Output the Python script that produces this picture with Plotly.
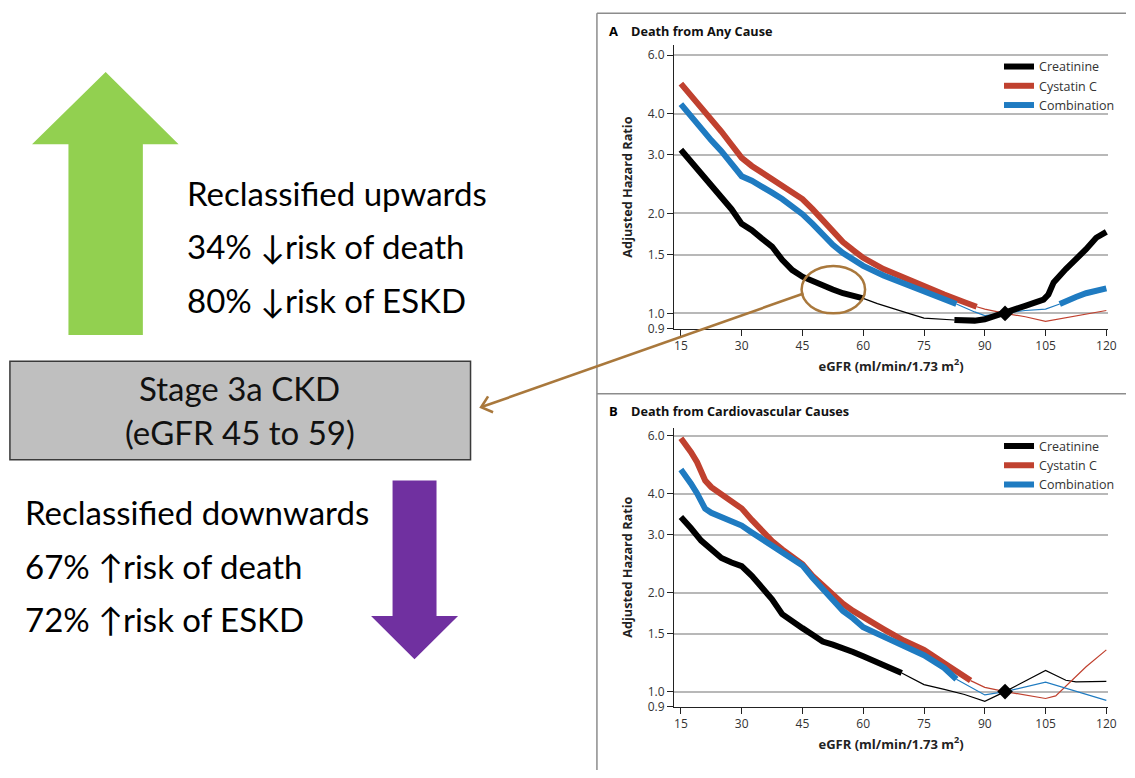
import math
import plotly.graph_objects as go

W, H = 1135, 778


def px(x):
    return x / W


def py(y):
    return 1 - y / H


# ---------------- data (eGFR, adjusted hazard ratio) ----------------
egfr_ticks = [15, 30, 45, 60, 75, 90, 105, 120]
hr_ticks = [0.9, 1.0, 1.5, 2.0, 3.0, 4.0, 6.0]
hr_tick_text = ["0.9", "1.0", "1.5", "2.0", "3.0", "4.0", "6.0"]
series_names = ["Creatinine", "Cystatin C", "Combination"]
ref_egfr = [95]
ref_hr = [1.0]

# Panel A: death from any cause
a_creat_sig1_x = [15, 17.5, 20, 22.5, 25, 27.5, 30, 32.5, 35, 37.5, 40, 42.5, 45, 47.5, 50, 52.5, 55, 57.5, 60]
a_creat_sig1_y = [3.11, 2.87, 2.65, 2.42, 2.24, 2.06, 1.86, 1.78, 1.68, 1.59, 1.45, 1.35, 1.29, 1.25, 1.21, 1.18, 1.15, 1.13, 1.11]
a_creat_ns_x = [60, 63.5, 70, 75, 82.5]
a_creat_ns_y = [1.11, 1.07, 1.01, 0.968, 0.955]
a_creat_sig2_x = [82.5, 85, 87.5, 90, 92.5, 95, 97.5, 100, 102.5, 104.5, 105.7, 107, 110, 112.5, 115, 117.5, 120]
a_creat_sig2_y = [0.955, 0.951, 0.951, 0.96, 0.985, 1.0, 1.03, 1.054, 1.079, 1.10, 1.14, 1.24, 1.36, 1.455, 1.56, 1.69, 1.76]

a_cys_sig_x = [15, 17.5, 20, 22.5, 25, 27.5, 30, 32.5, 35, 37.5, 40, 42.5, 45, 47.5, 50, 52.5, 55, 57.5, 60, 65, 70, 75, 80, 85, 88]
a_cys_sig_y = [4.92, 4.54, 4.19, 3.83, 3.53, 3.22, 2.94, 2.78, 2.65, 2.54, 2.42, 2.31, 2.21, 2.06, 1.91, 1.76, 1.64, 1.55, 1.47, 1.36, 1.28, 1.20, 1.14, 1.08, 1.047]
a_cys_ns_x = [88, 90, 95, 100, 105, 120]
a_cys_ns_y = [1.047, 1.03, 1.0, 0.977, 0.946, 1.02]

a_comb_sig1_x = [15, 17.5, 20, 22.5, 25, 27.5, 30, 32.5, 35, 37.5, 40, 42.5, 45, 47.5, 50, 52.5, 55, 57.5, 60, 65, 70, 75, 80, 83]
a_comb_sig1_y = [4.27, 3.91, 3.61, 3.32, 3.08, 2.81, 2.59, 2.51, 2.42, 2.31, 2.21, 2.10, 1.99, 1.86, 1.72, 1.61, 1.52, 1.45, 1.39, 1.30, 1.23, 1.17, 1.11, 1.067]
a_comb_ns_x = [83, 85, 87.5, 90, 95, 100, 105, 108.5]
a_comb_ns_y = [1.067, 1.04, 1.01, 0.985, 1.0, 1.02, 1.03, 1.067]
a_comb_sig2_x = [108.5, 110, 112.5, 115, 117.5, 120]
a_comb_sig2_y = [1.067, 1.09, 1.12, 1.15, 1.17, 1.19]

# Panel B: death from cardiovascular causes
b_creat_sig_x = [15, 16.5, 17.5, 20, 22.5, 25, 27.5, 30, 32.5, 35, 37.5, 40, 42.5, 45, 47.5, 50, 52.5, 55, 57.5, 60, 62.5, 65, 67.5, 69.5]
b_creat_sig_y = [3.40, 3.25, 3.14, 2.88, 2.70, 2.55, 2.47, 2.41, 2.25, 2.08, 1.91, 1.72, 1.63, 1.56, 1.49, 1.42, 1.39, 1.36, 1.32, 1.28, 1.24, 1.21, 1.17, 1.14]
b_creat_ns_x = [69.5, 75, 80, 85, 90, 95, 105, 110, 112.5, 120]
b_creat_ns_y = [1.14, 1.05, 1.016, 0.98, 0.934, 1.0, 1.16, 1.083, 1.071, 1.074]

b_cys_sig_x = [15, 16.5, 17.5, 19, 20, 21, 22.5, 25, 27.5, 30, 32.5, 35, 37.5, 40, 42.5, 45, 47.5, 50, 52.5, 55, 57.5, 60, 65, 70, 75, 80, 85, 86.5]
b_cys_sig_y = [5.90, 5.60, 5.35, 4.99, 4.65, 4.39, 4.19, 3.99, 3.82, 3.61, 3.33, 3.07, 2.87, 2.71, 2.58, 2.44, 2.25, 2.10, 1.96, 1.85, 1.76, 1.68, 1.55, 1.43, 1.34, 1.22, 1.11, 1.08]
b_cys_ns_x = [86.5, 90, 95, 100, 105, 107.5, 110, 115, 120]
b_cys_ns_y = [1.08, 1.03, 1.0, 0.977, 0.953, 0.97, 1.04, 1.19, 1.34]

b_comb_sig_x = [15, 16.5, 17.5, 19, 20, 21, 22.5, 25, 27.5, 30, 32.5, 35, 37.5, 40, 42.5, 45, 47.5, 50, 52.5, 55, 57.5, 60, 65, 70, 75, 80, 83]
b_comb_sig_y = [4.74, 4.50, 4.29, 4.01, 3.75, 3.60, 3.50, 3.40, 3.30, 3.20, 3.05, 2.91, 2.77, 2.64, 2.52, 2.42, 2.22, 2.05, 1.89, 1.76, 1.67, 1.57, 1.47, 1.38, 1.29, 1.18, 1.09]
b_comb_ns_x = [83, 90, 95, 105, 120]
b_comb_ns_y = [1.09, 0.977, 1.0, 1.069, 0.94]

# ---------------- styling ----------------
RED = "#C0412F"
BLUE = "#1F7BC1"
BLACK = "#000000"
BROWN = "#A9783C"
THICK = 6
THIN = 1.2
CHART_FONT = "Open Sans"
SLIDE_FONT = "Lato"

fig = go.Figure()


def line(xs, ys, color, width, xa, ya, name=None, legend=None, show=False):
    fig.add_trace(go.Scatter(
        x=xs, y=ys, mode="lines", name=name,
        line=dict(color=color, width=width),
        xaxis=xa, yaxis=ya, showlegend=show, legend=legend,
        hoverinfo="skip"))


# Panel A
line(a_creat_ns_x, a_creat_ns_y, BLACK, THIN, "x", "y")
line(a_cys_ns_x, a_cys_ns_y, RED, THIN, "x", "y")
line(a_comb_ns_x, a_comb_ns_y, BLUE, THIN, "x", "y")
line(a_creat_sig1_x, a_creat_sig1_y, BLACK, THICK, "x", "y", series_names[0], "legend", True)
line(a_cys_sig_x, a_cys_sig_y, RED, THICK, "x", "y", series_names[1], "legend", True)
line(a_comb_sig1_x, a_comb_sig1_y, BLUE, THICK, "x", "y", series_names[2], "legend", True)
line(a_creat_sig2_x, a_creat_sig2_y, BLACK, THICK, "x", "y")
line(a_comb_sig2_x, a_comb_sig2_y, BLUE, THICK, "x", "y")

# Panel B
line(b_creat_ns_x, b_creat_ns_y, BLACK, THIN, "x2", "y2")
line(b_cys_ns_x, b_cys_ns_y, RED, THIN, "x2", "y2")
line(b_comb_ns_x, b_comb_ns_y, BLUE, THIN, "x2", "y2")
line(b_creat_sig_x, b_creat_sig_y, BLACK, THICK, "x2", "y2", series_names[0], "legend2", True)
line(b_cys_sig_x, b_cys_sig_y, RED, THICK, "x2", "y2", series_names[1], "legend2", True)
line(b_comb_sig_x, b_comb_sig_y, BLUE, THICK, "x2", "y2", series_names[2], "legend2", True)

for xa, ya in (("x", "y"), ("x2", "y2")):
    fig.add_trace(go.Scatter(
        x=ref_egfr, y=ref_hr, mode="markers", xaxis=xa, yaxis=ya,
        marker=dict(symbol="diamond", size=12, color=BLACK),
        showlegend=False, hoverinfo="skip"))

# ---------------- axes ----------------
x_dom = [px(679.5), px(1116.9)]
title_font = dict(family=CHART_FONT, size=13, color="#222", weight="bold")
xcommon = dict(
    domain=x_dom, range=[13.33, 120.42], tickvals=egfr_ticks,
    ticks="outside", ticklen=6, tickwidth=1, tickcolor="#222",
    showline=True, linecolor="#222", linewidth=1.3,
    showgrid=False, zeroline=False, fixedrange=True,
    tickfont=dict(family=CHART_FONT, size=12, color="#333"),
    title=dict(text="eGFR (ml/min/1.73 m<sup>2</sup>)", font=title_font, standoff=8))
ycommon = dict(
    type="log", tickvals=hr_ticks, ticktext=hr_tick_text,
    ticks="outside", ticklen=6, tickwidth=1, tickcolor="#222",
    showline=True, linecolor="#222", linewidth=1.3,
    showgrid=True, gridcolor="#B8B8B8", gridwidth=1.5,
    zeroline=False, fixedrange=True,
    tickfont=dict(family=CHART_FONT, size=12, color="#333"),
    title=dict(text="Adjusted Hazard Ratio", font=dict(title_font, size=12.7), standoff=12))

fig.update_layout(
    xaxis=dict(xcommon, anchor="y"),
    yaxis=dict(ycommon, anchor="x", domain=[py(331.4), py(45)],
               range=[math.log10(0.9), 0.807]),
    xaxis2=dict(xcommon, anchor="y2"),
    yaxis2=dict(ycommon, anchor="x2", domain=[py(713.9), py(431.7)],
                range=[math.log10(0.9), 0.803]),
)

legend_style = dict(
    xanchor="left", yanchor="top", bgcolor="rgba(0,0,0,0)",
    borderwidth=0, tracegroupgap=0, itemwidth=30,
    font=dict(family=CHART_FONT, size=12.5, color="#333"))
fig.update_layout(
    legend=dict(legend_style, x=px(1007), y=py(51.5)),
    legend2=dict(legend_style, x=px(1007), y=py(435.5)),
)

# ---------------- shapes ----------------
shapes = []

# panel frame lines
frame = dict(type="line", xref="paper", yref="paper",
             line=dict(color="#8C8C8C", width=1.5))
shapes.append(dict(frame, x0=px(601.7), x1=px(601.7), y0=py(12.3), y1=py(778)))
shapes.append(dict(frame, x0=px(601.7), x1=px(1135), y0=py(12.3), y1=py(12.3)))
shapes.append(dict(frame, x0=px(601.7), x1=px(1135), y0=py(397.3), y1=py(397.3)))


def path(points, close=True):
    p = "M " + " L ".join(f"{px(x):.5f},{py(y):.5f}" for x, y in points)
    return p + (" Z" if close else "")


# green up arrow
shapes.append(dict(type="path", xref="paper", yref="paper",
                   path=path([(106.5, 71.9), (180, 145), (144, 145), (144, 338),
                              (69, 338), (69, 145), (32.3, 145)]),
                   fillcolor="#92D050", line=dict(width=0)))
# purple down arrow
shapes.append(dict(type="path", xref="paper", yref="paper",
                   path=path([(395.7, 485), (440, 485), (440, 622.3), (461.7, 622.3),
                              (417.8, 666), (374, 622.3), (395.7, 622.3)]),
                   fillcolor="#7030A0", line=dict(width=0)))
# grey stage box
shapes.append(dict(type="rect", xref="paper", yref="paper",
                   x0=px(10), x1=px(474.3), y0=py(464.1), y1=py(364.5),
                   fillcolor="#BFBFBF", line=dict(color="#3A3A3A", width=1.5)))
# brown ellipse highlighting eGFR 45-59 on creatinine curve
shapes.append(dict(type="circle", xref="paper", yref="paper",
                   x0=px(808), x1=px(872), y0=py(316), y1=py(268),
                   line=dict(color=BROWN, width=2.5)))
# brown connector with open chevron head at the stage box
shapes.append(dict(type="path", xref="paper", yref="paper",
                   path=path([(810, 296), (486, 410.6)], close=False),
                   line=dict(color=BROWN, width=2.6)))
shapes.append(dict(type="path", xref="paper", yref="paper",
                   path=path([(497, 416), (485, 411), (492, 400)], close=False),
                   line=dict(color=BROWN, width=2.6)))
fig.update_layout(shapes=shapes)

# ---------------- annotations ----------------
ann = []


def text(t, x, y, size, family, xanchor="left", bold=False, color="#000", angle=0):
    ann.append(dict(text=f"<b>{t}</b>" if bold else t, x=px(x), y=py(y),
                    xref="paper", yref="paper", xanchor=xanchor, yanchor="middle",
                    showarrow=False, textangle=angle,
                    font=dict(family=family, size=size, color=color)))


slide_size = 33
text("Reclassified upwards", 186, 194, slide_size, SLIDE_FONT)
text("34% \u2193risk of death", 186, 248, slide_size, SLIDE_FONT)
text("80% \u2193risk of ESKD", 186, 302, slide_size, SLIDE_FONT)
text("Stage 3a CKD", 241.7, 392, slide_size, SLIDE_FONT, xanchor="center", color="#111")
text("(eGFR 45 to 59)", 241.5, 435.6, slide_size, SLIDE_FONT, xanchor="center", color="#111")
text("Reclassified downwards", 23, 516.7, slide_size, SLIDE_FONT)
text("67% \u2191risk of death", 23, 572, slide_size, SLIDE_FONT)
text("72% \u2191risk of ESKD", 23, 625.4, slide_size, SLIDE_FONT)

text("A", 612, 30.7, 13, CHART_FONT, bold=True)
text("Death from Any Cause", 634, 30.7, 12.7, CHART_FONT, bold=True, color="#111")
text("B", 612, 414.3, 13, CHART_FONT, bold=True)
text("Death from Cardiovascular Causes", 634, 414.3, 12.7, CHART_FONT, bold=True, color="#111")
fig.update_layout(annotations=ann)

fig.update_layout(
    width=W, height=H, margin=dict(l=0, r=0, t=0, b=0),
    paper_bgcolor="white", plot_bgcolor="white", showlegend=True,
    font=dict(family=CHART_FONT, color="#222"))

fig.write_html("out.html")
